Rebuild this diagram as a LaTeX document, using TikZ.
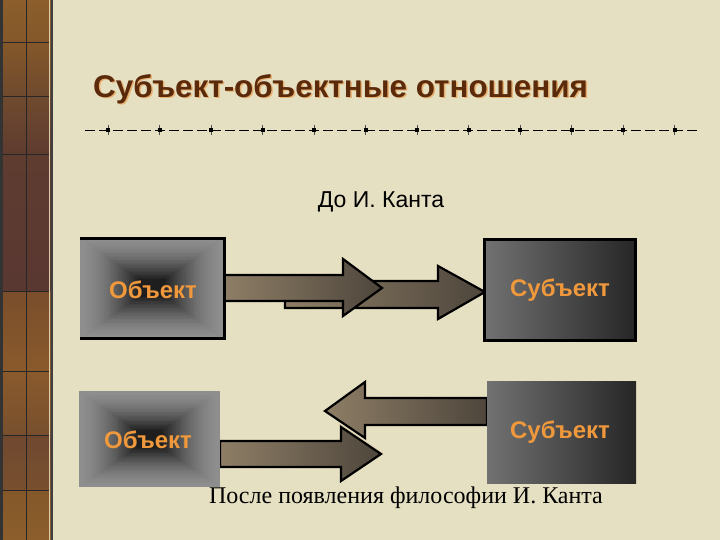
\documentclass[tikz,border=0pt]{standalone}
\usepackage{fontspec}
\setmainfont{Liberation Serif}
\newfontfamily\arialf{Liberation Sans}
\definecolor{bg}{HTML}{E6E0C2}
\definecolor{titlebrown}{HTML}{5A2A0A}
\definecolor{titleshadow}{HTML}{E8B070}
\definecolor{orangeT}{HTML}{F0983C}
\definecolor{edgeG}{HTML}{8E8E8E}
\definecolor{coreD}{HTML}{1E1E1E}
\definecolor{hgL}{HTML}{727272}
\definecolor{hgR}{HTML}{262626}
\definecolor{arL}{HTML}{8E7E66}
\definecolor{arM}{HTML}{A89A80}
\definecolor{arR}{HTML}{4E463C}
\definecolor{stripLight}{RGB}{220,205,170}
\definecolor{sA}{RGB}{140,94,44}
\definecolor{sB}{RGB}{132,88,42}
\definecolor{sC}{RGB}{112,74,46}
\definecolor{sD}{RGB}{94,60,48}
\definecolor{sE}{RGB}{90,56,50}
\definecolor{sF}{RGB}{122,78,44}
\definecolor{sG}{RGB}{138,90,44}
\definecolor{sH}{RGB}{120,80,46}
\definecolor{sI}{RGB}{112,72,48}
\tikzset{
  lbl/.style={font=\arialf\bfseries\fontsize{24}{28}\selectfont, text=orangeT, inner sep=0pt},
  blockarrow/.style={left color=arL, middle color=arM, right color=arR, draw=black, line width=2.2pt, line join=miter},
  stripline/.style={draw=black!85, line width=0.9pt},
}
\newcommand{\boxgrad}[4]{%
  \pgfmathsetmacro\bw{(#3-#1)/2}%
  \pgfmathsetmacro\bh{(#4-#2)/2}%
  \foreach \i in {0,...,30}{%
    \pgfmathsetmacro\ff{0.82*\i/30}%
    \pgfmathsetmacro\pp{100*(\i/30)^1.6}%
    \fill[coreD!\pp!edgeG] ({#1+\ff*\bw},{#2+\ff*\bh}) rectangle ({#3-\ff*\bw},{#4-\ff*\bh});
  }%
}
\begin{document}
\begin{tikzpicture}[x=1pt,y=-1pt]
\fill[bg] (0,0) rectangle (720,540);
\useasboundingbox (0,0) rectangle (720,540);
% left decorative strip
\shade[top color=sA, bottom color=sB] (0,0) rectangle (51,42);
\shade[top color=sB, bottom color=sC] (0,42) rectangle (51,96);
\shade[top color=sC, bottom color=sD] (0,96) rectangle (51,154);
\shade[top color=sD, bottom color=sE] (0,154) rectangle (51,291);
\shade[top color=sF, bottom color=sG] (0,291) rectangle (51,371);
\shade[top color=sG, bottom color=sH] (0,371) rectangle (51,435);
\shade[top color=sI, bottom color=sH] (0,435) rectangle (51,490);
\shade[top color=sB, bottom color=sA] (0,490) rectangle (51,540);
\fill[black!80] (0,0) rectangle (3,540);
\draw[stripline] (26,0) -- (26,540);
\foreach \yy in {42,96,154,291,371,435,490}{\draw[stripline] (3,\yy) -- (50,\yy);}
\draw[line width=1pt, stripLight] (49.5,0) -- (49.5,540);
\draw[line width=1.2pt, black!75] (52,0) -- (52,540);
% title
\node[anchor=west, inner sep=0pt, font=\arialf\bfseries\fontsize{31.4}{34}\selectfont, text=titleshadow] at (94.5,90.5) {Субъект-объектные отношения};
\node[anchor=west, inner sep=0pt, font=\arialf\bfseries\fontsize{31.4}{34}\selectfont, text=titlebrown] (title) at (93,89) {Субъект-объектные отношения};
% dashed rule
\coordinate (r1) at (85,130);
\coordinate (r2) at (697,130);
\draw[black, line width=0.8pt, dash pattern=on 10pt off 4pt] (r1) -- (r2);
\foreach \k in {0,...,11}{
  \pgfmathsetmacro\xx{108+51.5*\k}
  \draw[black!70, line width=0.5pt] (\xx,125) -- (\xx,135);
  \fill[black] (\xx-2,128) rectangle (\xx+2,132);
}
% top row
\node[inner sep=0pt, font=\arialf\fontsize{23}{27}\selectfont] (before) at (381,202) {До И. Канта};
\shade[blockarrow] (285,281) -- (438,281) -- (438,266) -- (485,292) -- (438,319) -- (438,308) -- (285,308) -- cycle;
\shade[blockarrow] (224,275) -- (343,275) -- (343,259) -- (382,288) -- (343,316) -- (343,301) -- (224,301) -- cycle;
\boxgrad{80}{238}{224}{338}
\draw[black, line width=3pt] (80,238) -- (224,238) -- (224,338) -- (80,338);
\shade[left color=hgL, right color=hgR] (484,239) rectangle (635,340);
\draw[black, line width=3pt] (484,239) rectangle (635,340);
\node[lbl] (obj1) at (153,290) {Объект};
\node[lbl] (sub1) at (560,290) {Субъект};
% bottom row
\shade[blockarrow] (487,398) -- (365,398) -- (365,382) -- (325,411) -- (365,438) -- (365,425) -- (487,425) -- cycle;
\draw[stripLight, line width=1.5pt] (339,424) -- (383,454);
\shade[blockarrow] (220,441) -- (341,441) -- (341,427) -- (381,454) -- (341,481) -- (341,467) -- (220,467) -- cycle;
\boxgrad{79}{391}{220}{487}
\shade[left color=hgL, right color=hgR] (487,381) rectangle (636,483);
\node[lbl] (obj2) at (148,440) {Объект};
\node[lbl] (sub2) at (560,432) {Субъект};
\node[inner sep=0pt, font=\fontsize{24}{28}\selectfont] (after) at (406,498) {После появления философии И. Канта};
\end{tikzpicture}
\end{document}
